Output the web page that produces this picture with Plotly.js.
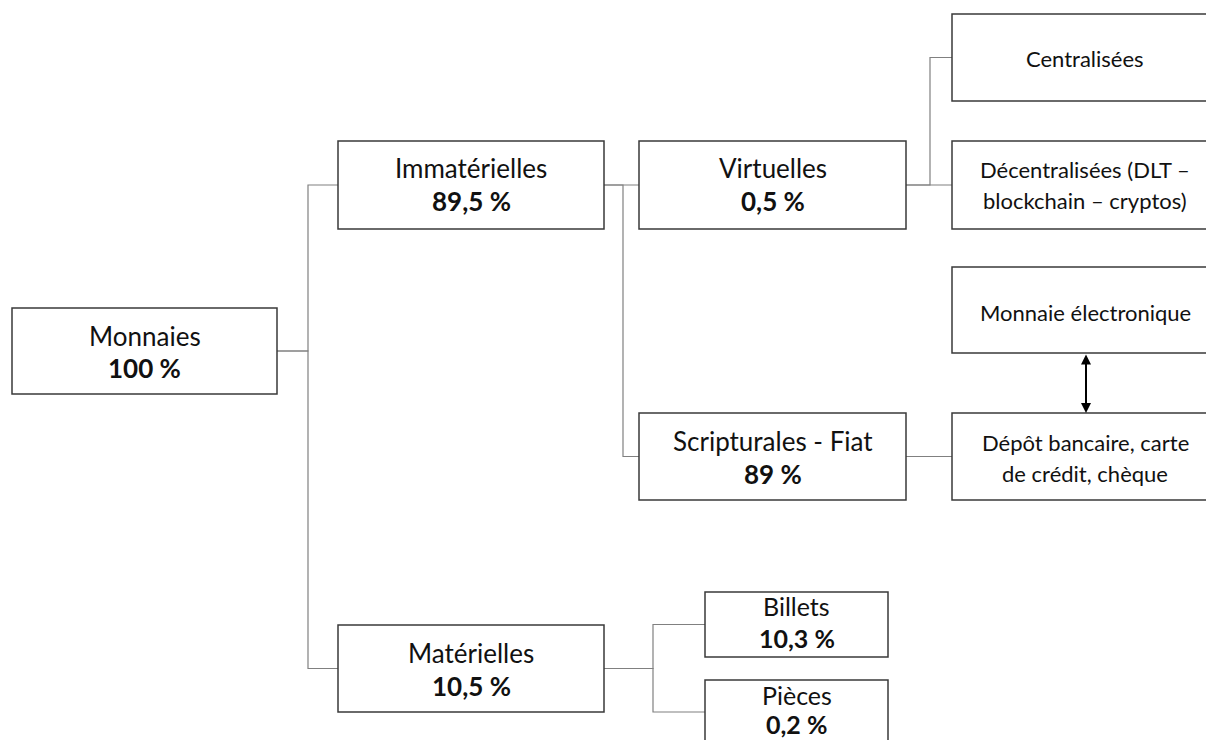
<!DOCTYPE html>
<html>
<head>
<meta charset="utf-8">
<script src="https://cdn.plot.ly/plotly-3.0.1.min.js"></script>
<style>html,body{margin:0;padding:0;background:#fff;}#chart{width:1206px;height:740px;}</style>
</head>
<body>
<div id="chart"></div>
<script>
// ---- Data ----
const nodeLabels = ["Monnaies", "Immatérielles", "Virtuelles", "Centralisées",
  "Décentralisées (DLT –\nblockchain – cryptos)", "Monnaie électronique",
  "Dépôt bancaire, carte\nde crédit, chèque", "Scripturales - Fiat",
  "Matérielles", "Billets", "Pièces"];
const nodeShares = ["100 %", "89,5 %", "0,5 %", "", "", "", "", "89 %", "10,5 %", "10,3 %", "0,2 %"];
const edgeParent = [0, 0, 1, 1, 2, 2, 7, 8, 8];
const edgeChild  = [1, 8, 2, 7, 3, 4, 6, 9, 10];
const linkPair = [5, 6]; // double arrow: Monnaie électronique <-> Dépôt bancaire

// ---- Layout (positions / styles) ----
const boxX0 = [12, 338, 639, 952, 952, 952, 952, 639, 338, 705, 705];
const boxX1 = [277, 604, 906, 1220, 1220, 1220, 1220, 906, 604, 888, 888];
const boxY0 = [308, 141, 141, 14, 141, 267, 413, 413, 625, 592, 680];
const boxY1 = [394, 229, 229, 101, 229, 353, 500, 500, 712, 657, 744];
const firstRowY = [336, 168, 168, 58, 169, 312, 442, 441, 653, 606, 695];
const rowGap = [32, 33, 33, 30, 31, 30, 31, 33, 33, 32, 29];
const fontSize = [26, 26, 26, 22, 22, 22, 22, 26, 26, 25, 25];
const elbowX = [308, 308, 623, 623, 930, 930, 930, 653, 653];

const shapes = [];
const annotations = [];
const font = "Lato, 'Open Sans', sans-serif";

nodeLabels.forEach((lab, i) => {
  shapes.push({type: "rect", xref: "x", yref: "y", x0: boxX0[i], x1: boxX1[i], y0: boxY0[i], y1: boxY1[i],
    line: {color: "#3a3a3a", width: 1.5}, fillcolor: "rgba(0,0,0,0)", layer: "above"});
  const rows = lab.split("\n");
  if (nodeShares[i]) rows.push("<b>" + nodeShares[i] + "</b>");
  const cx = (boxX0[i] + Math.min(boxX1[i], 1218)) / 2;
  rows.forEach((r, k) => {
    annotations.push({x: cx, y: firstRowY[i] + k * rowGap[i], xref: "x", yref: "y", text: r,
      showarrow: false, xanchor: "center", yanchor: "middle",
      font: {family: font, size: fontSize[i], color: "#111"}});
  });
});

edgeParent.forEach((p, e) => {
  const c = edgeChild[e];
  const py = (boxY0[p] + boxY1[p]) / 2;
  const cy = (boxY0[c] + boxY1[c]) / 2;
  shapes.push({type: "path", xref: "x", yref: "y",
    path: `M ${boxX1[p]} ${py} L ${elbowX[e]} ${py} L ${elbowX[e]} ${cy} L ${boxX0[c]} ${cy}`,
    line: {color: "#808080", width: 1.2}, layer: "below"});
});

// double arrow
const ax = 1086;
annotations.push({x: ax, y: boxY0[linkPair[1]], ax: ax, ay: boxY1[linkPair[0]], xref: "x", yref: "y",
  axref: "x", ayref: "y", text: "", showarrow: true, arrowside: "end+start",
  arrowhead: 2, startarrowhead: 2, arrowsize: 1, startarrowsize: 1, arrowwidth: 2, arrowcolor: "#000"});

const layout = {
  width: 1206, height: 740,
  margin: {l: 0, r: 0, t: 0, b: 0},
  paper_bgcolor: "#fff", plot_bgcolor: "#fff",
  xaxis: {range: [0, 1206], visible: false, fixedrange: true},
  yaxis: {range: [740, 0], visible: false, fixedrange: true},
  showlegend: false,
  shapes: shapes,
  annotations: annotations
};
Plotly.newPlot("chart", [{x: [], y: [], type: "scatter", mode: "markers", hoverinfo: "skip"}], layout, {staticPlot: true});
</script>
</body>
</html>
